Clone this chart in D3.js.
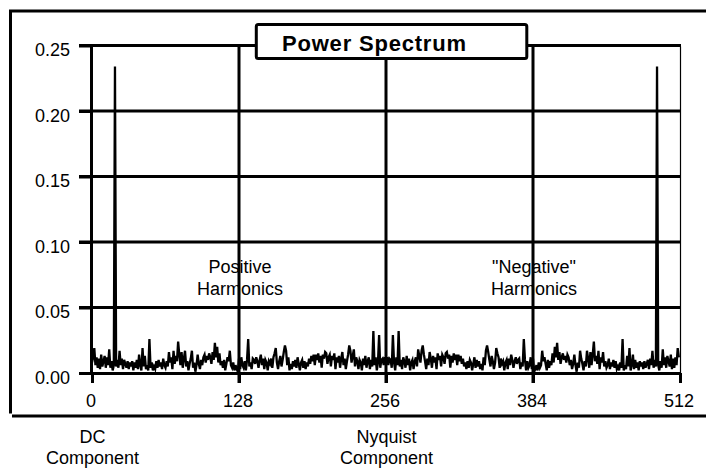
<!DOCTYPE html>
<html><head><meta charset="utf-8">
<script src="https://cdn.jsdelivr.net/npm/d3@7/dist/d3.min.js"></script>
<style>
body{margin:0;background:#fff}
svg{display:block}
text{font-family:"Liberation Sans",Arial,Helvetica,sans-serif;fill:#000}
</style>
</head><body>
<svg id="chart" width="706" height="469"></svg>
<script>
// Power at harmonic index 0..256 (DC .. Nyquist)
const positiveHarmonics = [
0.008,0.012,0.019,0.006,0.012,0.004,0.011,0.003,0.014,0.005,0.009,0.013,0.004,0.012,0.006,0.018,
0.004,0.009,0.002,0.006,0.234,0.005,0.010,0.004,0.017,0.006,0.011,0.003,0.010,0.007,0.004,0.009,
0.003,0.008,0.005,0.009,0.002,0.008,0.004,0.010,0.003,0.014,0.006,0.002,0.019,0.005,0.013,0.003,
0.006,0.002,0.026,0.004,0.008,0.002,0.005,0.003,0.009,0.004,0.010,0.005,0.008,0.003,0.011,0.006,
0.004,0.009,0.005,0.016,0.008,0.012,0.003,0.017,0.007,0.013,0.009,0.024,0.014,0.006,0.016,0.004,
0.011,0.017,0.005,0.009,0.002,0.007,0.011,0.017,0.004,0.008,0.001,0.006,0.014,0.007,0.003,0.010,
0.006,0.012,0.014,0.008,0.013,0.010,0.015,0.012,0.007,0.016,0.010,0.023,0.012,0.020,0.008,0.015,
0.006,0.009,0.004,0.010,0.002,0.007,0.012,0.009,0.017,0.006,0.004,0.008,0.002,0.006,0.003,0.001,
0.011,0.003,0.012,0.006,0.004,0.009,0.002,0.010,0.026,0.005,0.008,0.003,0.011,0.010,0.007,0.012,
0.009,0.004,0.010,0.014,0.006,0.011,0.003,0.010,0.008,0.002,0.009,0.007,0.011,0.004,0.012,0.015,
0.019,0.008,0.003,0.009,0.013,0.005,0.010,0.016,0.021,0.017,0.006,0.012,0.002,0.007,0.003,0.009,
0.005,0.010,0.004,0.012,0.007,0.002,0.008,0.010,0.004,0.009,0.003,0.008,0.005,0.011,0.007,0.013,
0.009,0.014,0.006,0.014,0.010,0.015,0.008,0.013,0.004,0.014,0.011,0.016,0.015,0.007,0.012,0.014,
0.005,0.013,0.010,0.015,0.003,0.012,0.008,0.013,0.004,0.011,0.016,0.006,0.011,0.003,0.009,0.014,
0.021,0.017,0.008,0.013,0.018,0.005,0.012,0.009,0.003,0.010,0.008,0.002,0.011,0.006,0.013,0.004,
0.009,0.012,0.003,0.010,0.005,0.032,0.006,0.012,0.002,0.008,0.029,0.004,0.010,0.011,0.006,0.012,
0.008
];
// Power at harmonic index 257..511 ("negative" harmonics)
const negativeHarmonics = [
0.012,0.006,0.011,0.010,0.004,0.029,0.008,0.002,0.012,0.006,0.032,0.005,0.010,0.003,0.012,0.009,
0.004,0.013,0.006,0.011,0.002,0.008,0.010,0.003,0.009,0.012,0.005,0.018,0.013,0.008,0.017,0.021,
0.014,0.009,0.003,0.011,0.006,0.016,0.011,0.004,0.013,0.008,0.012,0.003,0.015,0.010,0.013,0.005,
0.014,0.012,0.007,0.015,0.016,0.011,0.014,0.004,0.013,0.008,0.015,0.010,0.014,0.006,0.014,0.009,
0.013,0.007,0.011,0.005,0.008,0.003,0.009,0.004,0.010,0.008,0.002,0.007,0.012,0.004,0.010,0.005,
0.009,0.003,0.007,0.002,0.012,0.006,0.017,0.021,0.016,0.010,0.005,0.013,0.009,0.003,0.008,0.019,
0.015,0.012,0.004,0.011,0.007,0.009,0.002,0.008,0.010,0.003,0.011,0.006,0.014,0.010,0.004,0.009,
0.012,0.007,0.010,0.011,0.003,0.008,0.005,0.026,0.010,0.002,0.009,0.004,0.006,0.012,0.003,0.011,
0.001,0.003,0.006,0.002,0.008,0.004,0.006,0.017,0.009,0.012,0.007,0.002,0.010,0.004,0.009,0.006,
0.015,0.008,0.020,0.012,0.023,0.010,0.016,0.007,0.012,0.015,0.010,0.013,0.008,0.014,0.012,0.006,
0.010,0.003,0.007,0.014,0.006,0.001,0.008,0.004,0.017,0.011,0.007,0.002,0.009,0.005,0.017,0.011,
0.004,0.016,0.006,0.014,0.024,0.009,0.013,0.007,0.017,0.003,0.012,0.008,0.016,0.005,0.009,0.004,
0.006,0.011,0.003,0.008,0.005,0.010,0.004,0.009,0.003,0.005,0.002,0.008,0.004,0.026,0.002,0.006,
0.003,0.013,0.005,0.019,0.002,0.006,0.014,0.003,0.010,0.004,0.008,0.002,0.009,0.005,0.008,0.003,
0.009,0.004,0.007,0.010,0.003,0.011,0.006,0.017,0.004,0.010,0.005,0.234,0.006,0.002,0.009,0.004,
0.018,0.006,0.012,0.004,0.013,0.009,0.005,0.014,0.003,0.011,0.004,0.012,0.006,0.019,0.012
];
const yTicks = [0, 0.05, 0.10, 0.15, 0.20, 0.25];
const yTickLabels = ["0.00", "0.05", "0.10", "0.15", "0.20", "0.25"];
const xTicks = [0, 128, 256, 384, 512];
const xTickLabels = ["0", "128", "256", "384", "512"];
const gridX = [128, 256, 384];
const chartTitle = "Power Spectrum";
const harmonicNotes = [["Positive", "Harmonics"], ["\"Negative\"", "Harmonics"]];
const harmonicNoteAt = [128, 384];
const componentNotes = [["DC", "Component"], ["Nyquist", "Component"]];
const componentNoteAt = [0, 256];

const spectrum = positiveHarmonics.concat(negativeHarmonics);

const svg = d3.select("#chart");
const W = 706, H = 469;
const x = d3.scaleLinear().domain([0, 512]).range([92, 680]);
const y = d3.scaleLinear().domain([0, 0.25]).range([373, 45.5]);
const FS = 18;
const SW = 3;

// outer frame
const frame = svg.append("g").attr("stroke", "#000").attr("stroke-width", SW).attr("fill", "none");
frame.append("line").attr("x1", 9).attr("x2", W).attr("y1", 11).attr("y2", 11);
frame.append("line").attr("x1", 10.5).attr("x2", 10.5).attr("y1", 10).attr("y2", 413.5);
frame.append("line").attr("x1", 12).attr("x2", W).attr("y1", 416).attr("y2", 416);

// gridlines
const grid = svg.append("g").attr("stroke", "#000").attr("stroke-width", SW);
grid.selectAll(".gh").data(yTicks.filter(d => d > 0)).enter().append("line")
  .attr("x1", 79).attr("x2", 681).attr("y1", d => y(d)).attr("y2", d => y(d));
grid.selectAll(".gv").data(gridX).enter().append("line")
  .attr("x1", d => x(d)).attr("x2", d => x(d)).attr("y1", y(0.25)).attr("y2", y(0) + 10);
// thin right border
svg.append("line").attr("stroke", "#000").attr("stroke-width", 1.2)
  .attr("x1", x(512) + 0.5).attr("x2", x(512) + 0.5).attr("y1", y(0.25) + 1).attr("y2", y(0));

// y axis
const yAxis = svg.append("g").attr("transform", "translate(91,0)")
  .call(d3.axisLeft(y).tickValues(yTicks).tickFormat((d, i) => yTickLabels[i]).tickSize(12).tickPadding(9).tickSizeOuter(0));
yAxis.select(".domain").attr("stroke-width", SW);
yAxis.selectAll(".tick line").attr("stroke-width", SW);
yAxis.selectAll(".tick text").attr("font-size", FS).attr("font-family", "Liberation Sans, Arial, sans-serif").attr("y", 4.5);

// x axis
const xAxis = svg.append("g").attr("transform", `translate(0,${y(0)})`)
  .call(d3.axisBottom(x).tickValues(xTicks).tickFormat((d, i) => xTickLabels[i]).tickSize(10).tickPadding(11).tickSizeOuter(0));
xAxis.select(".domain").attr("stroke-width", SW);
xAxis.selectAll(".tick line").attr("stroke-width", SW);
xAxis.selectAll(".tick text").attr("font-size", FS).attr("font-family", "Liberation Sans, Arial, sans-serif").attr("x", -1.5);

// spectrum line
svg.append("path").datum(spectrum)
  .attr("fill", "none").attr("stroke", "#000").attr("stroke-width", 2.3).attr("stroke-linejoin", "miter")
  .attr("d", d3.line().x((d, i) => x(i)).y(d => y(d)));

// title box
svg.append("rect").attr("x", 256.3).attr("y", 24.5).attr("width", 270.5).attr("height", 34).attr("rx", 2)
  .attr("fill", "#fff").attr("stroke", "#000").attr("stroke-width", SW);
svg.append("text").attr("x", 282).attr("y", 51).attr("font-size", 22).attr("font-weight", "bold")
  .attr("letter-spacing", 0.8).text(chartTitle);

// harmonic annotations
harmonicNotes.forEach((lines, k) => {
  const t = svg.append("text").attr("text-anchor", "middle").attr("font-size", FS);
  lines.forEach((s, j) => t.append("tspan").attr("x", x(harmonicNoteAt[k]) + 1).attr("y", 273 + j * 22).text(s));
});
// component annotations
componentNotes.forEach((lines, k) => {
  const t = svg.append("text").attr("text-anchor", "middle").attr("font-size", FS);
  lines.forEach((s, j) => t.append("tspan").attr("x", x(componentNoteAt[k]) + 0.5).attr("y", 443 + j * 21).text(s));
});
</script>
</body></html>
